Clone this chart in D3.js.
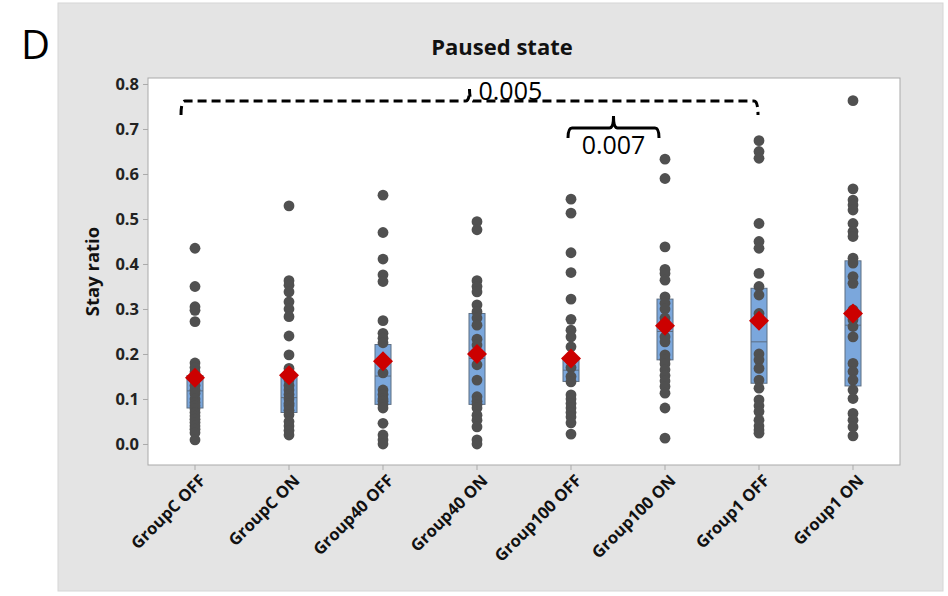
<!DOCTYPE html>
<html>
<head>
<meta charset="utf-8">
<script src="https://cdn.jsdelivr.net/npm/d3@7"></script>
<style>
  body { margin: 0; background: #fff; }
  svg { display: block; font-family: "Open Sans", "Noto Sans", sans-serif; }
</style>
</head>
<body>
<svg id="chart" width="948" height="596"></svg>
<script>
const groups = ["GroupC OFF", "GroupC ON", "Group40 OFF", "Group40 ON", "Group100 OFF", "Group100 ON", "Group1 OFF", "Group1 ON"];

// individual stay ratios, one list per group
const stayRatios = [
    [0.435, 0.35, 0.305, 0.297, 0.272, 0.18, 0.17, 0.16, 0.142, 0.13, 0.12, 0.112, 0.10, 0.092, 0.085, 0.078, 0.07, 0.062, 0.055, 0.048, 0.04, 0.033, 0.025, 0.009],
    [0.529, 0.363, 0.353, 0.338, 0.316, 0.30, 0.283, 0.24, 0.198, 0.168, 0.155, 0.142, 0.13, 0.12, 0.11, 0.10, 0.09, 0.085, 0.075, 0.065, 0.05, 0.04, 0.03, 0.02],
    [0.553, 0.47, 0.411, 0.376, 0.361, 0.274, 0.246, 0.235, 0.225, 0.158, 0.12, 0.11, 0.10, 0.095, 0.088, 0.08, 0.046, 0.02, 0.009, 0.0],
    [0.494, 0.476, 0.363, 0.35, 0.338, 0.309, 0.294, 0.28, 0.264, 0.233, 0.22, 0.176, 0.142, 0.105, 0.095, 0.088, 0.08, 0.064, 0.053, 0.038, 0.009, 0.0],
    [0.544, 0.513, 0.425, 0.381, 0.322, 0.277, 0.253, 0.238, 0.216, 0.185, 0.17, 0.15, 0.138, 0.109, 0.10, 0.09, 0.08, 0.07, 0.06, 0.047, 0.022],
    [0.633, 0.59, 0.438, 0.388, 0.379, 0.364, 0.327, 0.313, 0.30, 0.28, 0.27, 0.238, 0.227, 0.198, 0.188, 0.178, 0.165, 0.152, 0.14, 0.128, 0.113, 0.08, 0.013],
    [0.674, 0.65, 0.635, 0.49, 0.45, 0.435, 0.379, 0.35, 0.331, 0.29, 0.28, 0.20, 0.187, 0.168, 0.142, 0.124, 0.098, 0.085, 0.072, 0.053, 0.04, 0.031, 0.024],
    [0.763, 0.567, 0.542, 0.531, 0.52, 0.49, 0.472, 0.461, 0.413, 0.402, 0.372, 0.357, 0.298, 0.276, 0.261, 0.238, 0.179, 0.161, 0.142, 0.12, 0.101, 0.068, 0.053, 0.038, 0.018]
];

// box (interquartile) and mean
const q1 = [0.080, 0.070, 0.088, 0.088, 0.139, 0.187, 0.135, 0.129];
const medians = [0.118, 0.103, 0.151, 0.19, 0.164, 0.25, 0.227, 0.264];
const q3 = [0.152, 0.151, 0.221, 0.29, 0.192, 0.322, 0.346, 0.407];
const means = [0.147, 0.153, 0.184, 0.20, 0.19, 0.263, 0.274, 0.29];

const yTicks = [0, 0.1, 0.2, 0.3, 0.4, 0.5, 0.6, 0.7, 0.8];

// significance brackets
const brackets = [
    { from: "GroupC OFF", to: "Group1 OFF", level: 0.762, label: "0.005", dashed: true },
    { from: "Group100 OFF", to: "Group100 ON", level: 0.702, label: "0.007", dashed: false }
];

const svg = d3.select("#chart");
const plot = { left: 148, right: 900, top: 78, bottom: 465 };

const x = d3.scaleBand().domain(groups).range([plot.left, plot.right]);
const y = d3.scaleLinear().domain([-0.0467, 0.8133]).range([plot.bottom, plot.top]);
const cx = g => x(g) + x.bandwidth() / 2;

// panel + label
svg.append("rect").attr("x", 58).attr("y", 3).attr("width", 885).attr("height", 588)
    .attr("fill", "#e4e4e4").attr("stroke", "#d6d6d6");
svg.append("text").attr("x", 21).attr("y", 59).attr("font-size", 40).attr("fill", "#000").text("D");

svg.append("text").attr("x", 502).attr("y", 55).attr("text-anchor", "middle")
    .attr("font-size", 22).attr("font-weight", "bold").attr("fill", "#111").text("Paused state");

svg.append("rect").attr("x", plot.left).attr("y", plot.top)
    .attr("width", plot.right - plot.left).attr("height", plot.bottom - plot.top)
    .attr("fill", "#fff").attr("stroke", "#a9a9a9");

// y axis
const yAxis = svg.append("g").attr("transform", `translate(${plot.left},0)`)
    .call(d3.axisLeft(y).tickValues(yTicks).tickFormat(d3.format(".1f")).tickSize(5).tickPadding(4));
yAxis.select(".domain").remove();
yAxis.selectAll("line").attr("stroke", "#a9a9a9");
yAxis.selectAll("text").attr("font-size", 16.5).attr("font-weight", "bold").attr("fill", "#222")
    .attr("font-family", "Open Sans, sans-serif");

svg.append("text").attr("transform", `translate(99,${(plot.top + plot.bottom) / 2}) rotate(-90)`)
    .attr("text-anchor", "middle").attr("font-size", 18.5).attr("font-weight", "bold").attr("fill", "#111")
    .text("Stay ratio");

// x axis
const xAxis = svg.append("g").attr("transform", `translate(0,${plot.bottom})`)
    .call(d3.axisBottom(x).tickSize(5).tickPadding(3));
xAxis.select(".domain").remove();
xAxis.selectAll("line").attr("stroke", "#a9a9a9");
xAxis.selectAll("text")
    .attr("font-size", 16.5).attr("font-weight", "bold").attr("fill", "#111")
    .attr("font-family", "Open Sans, sans-serif")
    .attr("text-anchor", "end").attr("dy", 0)
    .attr("transform", "translate(6,11) rotate(-45)");

// boxes
const boxW = 16;
const boxes = svg.append("g");
groups.forEach((g, i) => {
    boxes.append("rect")
        .attr("x", cx(g) - boxW / 2).attr("y", y(q3[i]))
        .attr("width", boxW).attr("height", y(q1[i]) - y(q3[i]))
        .attr("fill", "#7ba7dc").attr("stroke", "#5d6e82").attr("stroke-width", 1);
    boxes.append("line")
        .attr("x1", cx(g) - boxW / 2).attr("x2", cx(g) + boxW / 2)
        .attr("y1", y(medians[i])).attr("y2", y(medians[i]))
        .attr("stroke", "#5d6e82").attr("stroke-width", 1);
});

// individual values
const dots = svg.append("g");
groups.forEach((g, i) => {
    dots.selectAll(null).data(stayRatios[i]).join("circle")
        .attr("cx", cx(g)).attr("cy", d => y(d)).attr("r", 5.4)
        .attr("fill", "#505050");
});

// means
const diamond = d3.symbol(d3.symbolSquare, 200);
svg.append("g").selectAll("path").data(means).join("path")
    .attr("d", diamond)
    .attr("transform", (d, i) => `translate(${cx(groups[i])},${y(d)}) rotate(45)`)
    .attr("fill", "#cc0000");

// brackets
const nudge = [[-14, -1], [-3, -6]];
brackets.forEach((b, i) => {
    const x0 = cx(b.from) + nudge[i][0], x1 = cx(b.to) + nudge[i][1];
    const xc = (x0 + x1) / 2, yl = y(b.level);
    const yEnd = yl + (b.dashed ? 14 : 10), yTop = yl - 12;
    const p = d3.path();
    p.moveTo(x0, yEnd);
    p.quadraticCurveTo(x0, yl, x0 + 4, yl);
    p.lineTo(xc - 4, yl);
    p.quadraticCurveTo(xc, yl, xc, yTop);
    p.quadraticCurveTo(xc, yl, xc + 4, yl);
    p.lineTo(x1 - 4, yl);
    p.quadraticCurveTo(x1, yl, x1, yEnd);
    svg.append("path").attr("d", p.toString()).attr("fill", "none")
        .attr("stroke", "#000").attr("stroke-width", 3)
        .attr("stroke-dasharray", b.dashed ? "9,5" : null);
    if (b.dashed) {
        svg.append("text").attr("x", xc + 9).attr("y", yl - 1)
            .attr("font-size", 25).attr("fill", "#000").text(b.label);
    } else {
        svg.append("text").attr("x", xc).attr("y", yl + 26).attr("text-anchor", "middle")
            .attr("font-size", 25).attr("fill", "#000").text(b.label);
    }
});
</script>
</body>
</html>
